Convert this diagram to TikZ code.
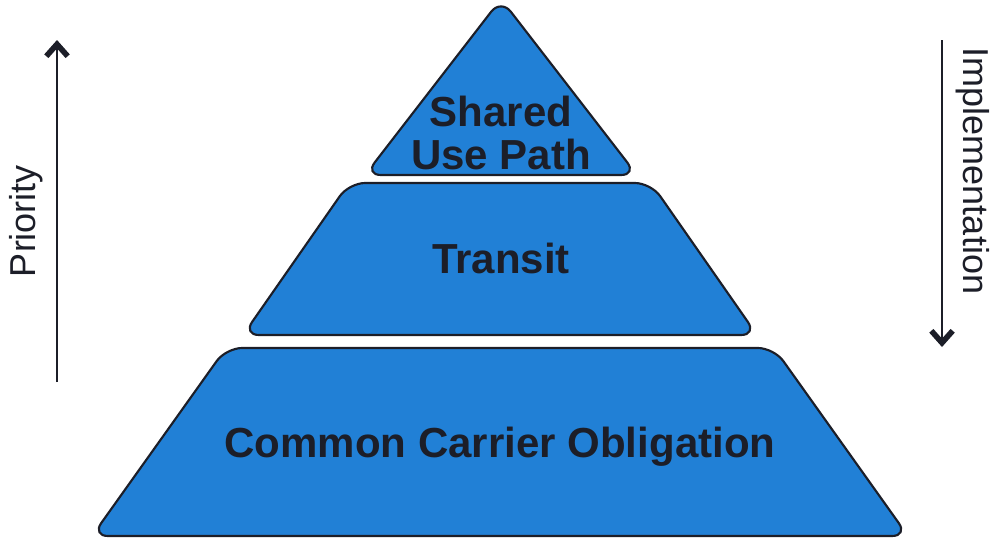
\documentclass[tikz,border=0pt]{standalone}
\usepackage{fontspec}
\setmainfont{Liberation Sans}
\usetikzlibrary{arrows.meta}
\definecolor{tierblue}{RGB}{33,128,214}
\definecolor{tierink}{RGB}{28,30,40}

\begin{document}
\begin{tikzpicture}[x=0.75pt,y=-0.75pt,
	tier/.style={fill=tierblue,draw=tierink,line width=1.6pt,rounded corners=12pt,line join=round},
	tiertext/.style={font=\bfseries\fontsize{31.5}{32}\selectfont,text=tierink,align=center},
	side/.style={font=\fontsize{27}{30}\selectfont,text=tierink},
	axis/.style={line width=2pt,draw=tierink,-{Straight Barb[length=9pt,width=16pt,line width=4.2pt]}}]
	\useasboundingbox (0,0) rectangle (996,540);
	\draw[tier] (501,-1) -- (637,175) -- (365,175) -- cycle;
	\draw[tier] (349,183) -- (651,183) -- (757,335) -- (243,335) -- cycle;
	\draw[tier] (226,348) -- (774,348) -- (908,536) -- (92,536) -- cycle;
	\node[tiertext] (path) at (501,133) {Shared\\Use Path};
	\node[tiertext] (transit) at (501,258) {Transit};
	\node[tiertext] (carrier) at (500,447) {Common Carrier Obligation};
	\coordinate (priobot) at (57,382);
	\coordinate (priotop) at (57,40);
	\coordinate (impltop) at (942,40);
	\coordinate (implbot) at (942,347);
	\draw[axis] (priobot) -- (priotop);
	\draw[axis] (impltop) -- (implbot);
	\path (26,221) node[side,rotate=90] (prio) {Priority}
		 (973,171) node[side,rotate=-90] (impl) {Implementation};
\end{tikzpicture}
\end{document}
